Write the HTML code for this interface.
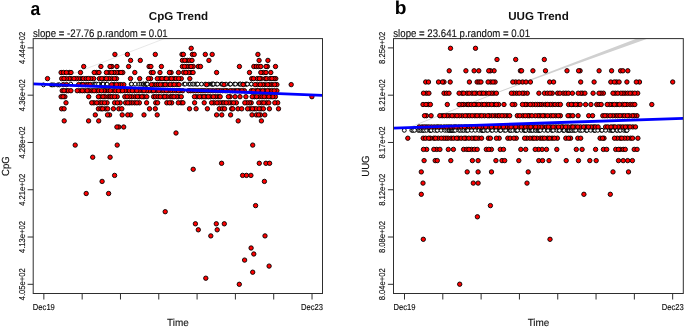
<!DOCTYPE html>
<html><head><meta charset="utf-8"><title>Trend plots</title>
<style>
html,body{margin:0;padding:0;background:#fff;}
body{width:685px;height:327px;overflow:hidden;font-family:"Liberation Sans",sans-serif;}
svg{display:block;will-change:transform;}
text{font-family:"Liberation Sans",sans-serif;fill:#111;text-rendering:geometricPrecision;}
.tk{font-size:8.6px;stroke:#111;stroke-width:0.15px;}
.lab{font-size:10.3px;stroke:#111;stroke-width:0.12px;}
.ttl{font-size:11.6px;font-weight:bold;}
.sub{font-size:11px;stroke:#111;stroke-width:0.12px;}
.let{font-size:18.8px;font-weight:bold;fill:#000;}
</style></head><body>
<svg width="685" height="327" viewBox="0 0 685 327">
<rect width="685" height="327" fill="#fff"/>
<defs><clipPath id="cl"><rect x="33.2" y="38.6" width="289.3" height="254.9"/></clipPath><clipPath id="cr"><rect x="393.5" y="38.6" width="289.79999999999995" height="254.9"/></clipPath></defs>
<g clip-path="url(#cl)">
<line x1="70" y1="74.9" x2="165" y2="38.4" stroke="#d9d9d9" stroke-width="0.6"/>
<g fill="#fff" stroke="#000" stroke-width="1.0"><circle cx="43.5" cy="84.9" r="1.9"/><circle cx="51.2" cy="84.9" r="1.9"/><circle cx="52.4" cy="84.9" r="1.9"/><circle cx="54.0" cy="84.9" r="1.9"/><circle cx="57.7" cy="84.9" r="1.9"/><circle cx="59.0" cy="84.9" r="1.9"/><circle cx="59.4" cy="84.9" r="1.9"/><circle cx="70.8" cy="84.1" r="1.9"/><circle cx="92.9" cy="84.1" r="1.9"/><circle cx="94.7" cy="84.1" r="1.9"/><circle cx="95.1" cy="84.1" r="1.9"/><circle cx="96.5" cy="84.1" r="1.9"/><circle cx="98.5" cy="84.1" r="1.9"/><circle cx="101.7" cy="84.1" r="1.9"/><circle cx="102.1" cy="84.1" r="1.9"/><circle cx="102.8" cy="84.1" r="1.9"/><circle cx="103.2" cy="84.1" r="1.9"/><circle cx="106.5" cy="84.1" r="1.9"/><circle cx="107.2" cy="84.1" r="1.9"/><circle cx="131.1" cy="84.1" r="1.9"/><circle cx="131.5" cy="84.1" r="1.9"/><circle cx="135.2" cy="84.1" r="1.9"/><circle cx="138.9" cy="84.1" r="1.9"/><circle cx="141.0" cy="84.1" r="1.9"/><circle cx="142.9" cy="84.1" r="1.9"/><circle cx="143.3" cy="84.1" r="1.9"/><circle cx="143.7" cy="84.1" r="1.9"/><circle cx="145.2" cy="84.1" r="1.9"/><circle cx="145.6" cy="84.1" r="1.9"/><circle cx="146.1" cy="84.1" r="1.9"/><circle cx="146.6" cy="84.1" r="1.9"/><circle cx="147.0" cy="84.1" r="1.9"/><circle cx="147.4" cy="84.1" r="1.9"/><circle cx="184.0" cy="84.1" r="1.9"/><circle cx="185.2" cy="84.1" r="1.9"/><circle cx="188.9" cy="84.1" r="1.9"/><circle cx="190.3" cy="84.1" r="1.9"/><circle cx="192.4" cy="84.1" r="1.9"/><circle cx="193.8" cy="84.1" r="1.9"/><circle cx="195.9" cy="84.1" r="1.9"/><circle cx="197.1" cy="84.1" r="1.9"/><circle cx="197.8" cy="84.1" r="1.9"/><circle cx="201.5" cy="84.1" r="1.9"/><circle cx="205.2" cy="84.1" r="1.9"/><circle cx="208.9" cy="84.1" r="1.9"/><circle cx="211.3" cy="84.1" r="1.9"/><circle cx="212.1" cy="84.1" r="1.9"/><circle cx="212.6" cy="84.1" r="1.9"/><circle cx="213.3" cy="84.1" r="1.9"/><circle cx="213.7" cy="84.1" r="1.9"/><circle cx="216.6" cy="84.1" r="1.9"/><circle cx="217.6" cy="84.1" r="1.9"/><circle cx="221.3" cy="84.1" r="1.9"/><circle cx="222.3" cy="84.1" r="1.9"/><circle cx="226.0" cy="84.1" r="1.9"/><circle cx="229.7" cy="84.1" r="1.9"/><circle cx="230.1" cy="84.1" r="1.9"/><circle cx="230.6" cy="84.1" r="1.9"/><circle cx="234.3" cy="84.1" r="1.9"/><circle cx="235.5" cy="84.1" r="1.9"/><circle cx="239.2" cy="84.1" r="1.9"/><circle cx="240.2" cy="84.1" r="1.9"/><circle cx="240.6" cy="84.1" r="1.9"/><circle cx="242.6" cy="84.1" r="1.9"/><circle cx="245.6" cy="84.1" r="1.9"/><circle cx="246.3" cy="84.1" r="1.9"/><circle cx="246.7" cy="84.1" r="1.9"/><circle cx="247.5" cy="84.1" r="1.9"/><circle cx="251.2" cy="84.1" r="1.9"/><circle cx="251.4" cy="84.1" r="1.9"/></g>
<g fill="#f00" stroke="#000" stroke-width="0.9"><circle cx="93.7" cy="78.6" r="2.2"/><circle cx="159.8" cy="78.6" r="2.2"/><circle cx="181.3" cy="78.6" r="2.2"/><circle cx="93.9" cy="102.8" r="2.2"/><circle cx="257.2" cy="78.6" r="2.2"/><circle cx="117.2" cy="145.1" r="2.2"/><circle cx="81.4" cy="78.6" r="2.2"/><circle cx="139.4" cy="102.8" r="2.2"/><circle cx="153.4" cy="84.6" r="2.2"/><circle cx="251.2" cy="102.8" r="2.2"/><circle cx="105.9" cy="90.7" r="2.2"/><circle cx="110.1" cy="157.2" r="2.2"/><circle cx="269.1" cy="266.1" r="2.2"/><circle cx="142.2" cy="90.7" r="2.2"/><circle cx="156.2" cy="84.6" r="2.2"/><circle cx="116.9" cy="66.5" r="2.2"/><circle cx="170.2" cy="96.7" r="2.2"/><circle cx="108.2" cy="96.7" r="2.2"/><circle cx="187.2" cy="60.4" r="2.2"/><circle cx="189.8" cy="78.6" r="2.2"/><circle cx="260.2" cy="90.7" r="2.2"/><circle cx="278.5" cy="108.8" r="2.2"/><circle cx="230.6" cy="114.9" r="2.2"/><circle cx="201.8" cy="96.7" r="2.2"/><circle cx="265.0" cy="90.7" r="2.2"/><circle cx="261.0" cy="108.8" r="2.2"/><circle cx="254.3" cy="96.7" r="2.2"/><circle cx="96.5" cy="90.7" r="2.2"/><circle cx="194.6" cy="102.8" r="2.2"/><circle cx="250.1" cy="108.8" r="2.2"/><circle cx="123.8" cy="84.6" r="2.2"/><circle cx="109.3" cy="72.5" r="2.2"/><circle cx="267.4" cy="66.5" r="2.2"/><circle cx="66.5" cy="90.7" r="2.2"/><circle cx="111.7" cy="78.6" r="2.2"/><circle cx="90.8" cy="78.6" r="2.2"/><circle cx="181.1" cy="102.8" r="2.2"/><circle cx="253.8" cy="254.0" r="2.2"/><circle cx="85.6" cy="84.6" r="2.2"/><circle cx="134.6" cy="102.8" r="2.2"/><circle cx="165.0" cy="78.6" r="2.2"/><circle cx="120.9" cy="84.6" r="2.2"/><circle cx="178.5" cy="96.7" r="2.2"/><circle cx="259.1" cy="60.4" r="2.2"/><circle cx="163.0" cy="84.6" r="2.2"/><circle cx="189.6" cy="60.4" r="2.2"/><circle cx="91.7" cy="102.8" r="2.2"/><circle cx="222.0" cy="102.8" r="2.2"/><circle cx="275.8" cy="78.6" r="2.2"/><circle cx="264.6" cy="84.6" r="2.2"/><circle cx="251.4" cy="90.7" r="2.2"/><circle cx="127.7" cy="90.7" r="2.2"/><circle cx="215.7" cy="90.7" r="2.2"/><circle cx="269.5" cy="90.7" r="2.2"/><circle cx="176.9" cy="84.6" r="2.2"/><circle cx="69.6" cy="72.5" r="2.2"/><circle cx="108.5" cy="90.7" r="2.2"/><circle cx="176.7" cy="96.7" r="2.2"/><circle cx="171.7" cy="102.8" r="2.2"/><circle cx="99.8" cy="102.8" r="2.2"/><circle cx="193.2" cy="90.7" r="2.2"/><circle cx="111.9" cy="66.5" r="2.2"/><circle cx="251.7" cy="78.6" r="2.2"/><circle cx="260.4" cy="114.9" r="2.2"/><circle cx="166.8" cy="102.8" r="2.2"/><circle cx="104.6" cy="78.6" r="2.2"/><circle cx="128.6" cy="66.5" r="2.2"/><circle cx="182.4" cy="66.5" r="2.2"/><circle cx="161.5" cy="90.7" r="2.2"/><circle cx="95.3" cy="114.9" r="2.2"/><circle cx="196.8" cy="96.7" r="2.2"/><circle cx="119" cy="72.5" r="2.2"/><circle cx="276.9" cy="90.7" r="2.2"/><circle cx="242.6" cy="175.4" r="2.2"/><circle cx="277.7" cy="102.8" r="2.2"/><circle cx="218.1" cy="96.7" r="2.2"/><circle cx="66" cy="102.8" r="2.2"/><circle cx="125.0" cy="90.7" r="2.2"/><circle cx="252.7" cy="272.2" r="2.2"/><circle cx="179.1" cy="84.6" r="2.2"/><circle cx="113.4" cy="90.7" r="2.2"/><circle cx="240" cy="96.7" r="2.2"/><circle cx="123.7" cy="127.0" r="2.2"/><circle cx="129.5" cy="90.7" r="2.2"/><circle cx="71.1" cy="78.6" r="2.2"/><circle cx="150.6" cy="78.6" r="2.2"/><circle cx="79.8" cy="90.7" r="2.2"/><circle cx="192.4" cy="54.4" r="2.2"/><circle cx="167.4" cy="84.6" r="2.2"/><circle cx="194.4" cy="96.7" r="2.2"/><circle cx="196.1" cy="108.8" r="2.2"/><circle cx="115.7" cy="90.7" r="2.2"/><circle cx="206.7" cy="84.6" r="2.2"/><circle cx="210.8" cy="235.9" r="2.2"/><circle cx="173.7" cy="78.6" r="2.2"/><circle cx="151.9" cy="90.7" r="2.2"/><circle cx="110.3" cy="90.7" r="2.2"/><circle cx="182.7" cy="90.7" r="2.2"/><circle cx="265.9" cy="163.3" r="2.2"/><circle cx="262.6" cy="84.6" r="2.2"/><circle cx="239.4" cy="90.7" r="2.2"/><circle cx="190.7" cy="90.7" r="2.2"/><circle cx="261.1" cy="78.6" r="2.2"/><circle cx="120.2" cy="102.8" r="2.2"/><circle cx="222.7" cy="90.7" r="2.2"/><circle cx="134.4" cy="90.7" r="2.2"/><circle cx="108.6" cy="193.5" r="2.2"/><circle cx="231.6" cy="108.8" r="2.2"/><circle cx="134.9" cy="96.7" r="2.2"/><circle cx="130.5" cy="78.6" r="2.2"/><circle cx="265.2" cy="78.6" r="2.2"/><circle cx="158.3" cy="84.6" r="2.2"/><circle cx="176.1" cy="78.6" r="2.2"/><circle cx="99.4" cy="78.6" r="2.2"/><circle cx="151.4" cy="84.6" r="2.2"/><circle cx="192" cy="60.4" r="2.2"/><circle cx="200.8" cy="90.7" r="2.2"/><circle cx="120.7" cy="90.7" r="2.2"/><circle cx="78.5" cy="78.6" r="2.2"/><circle cx="139.4" cy="96.7" r="2.2"/><circle cx="98.4" cy="108.8" r="2.2"/><circle cx="270.8" cy="72.5" r="2.2"/><circle cx="104.0" cy="90.7" r="2.2"/><circle cx="91.8" cy="90.7" r="2.2"/><circle cx="224" cy="84.6" r="2.2"/><circle cx="148.4" cy="78.6" r="2.2"/><circle cx="139.7" cy="78.6" r="2.2"/><circle cx="68.3" cy="90.7" r="2.2"/><circle cx="105.5" cy="108.8" r="2.2"/><circle cx="114.6" cy="175.4" r="2.2"/><circle cx="239.4" cy="66.5" r="2.2"/><circle cx="231.1" cy="102.8" r="2.2"/><circle cx="271.0" cy="96.7" r="2.2"/><circle cx="261.4" cy="120.9" r="2.2"/><circle cx="253.8" cy="66.5" r="2.2"/><circle cx="172.4" cy="84.6" r="2.2"/><circle cx="116.6" cy="72.5" r="2.2"/><circle cx="254.3" cy="108.8" r="2.2"/><circle cx="153.6" cy="96.7" r="2.2"/><circle cx="214.0" cy="102.8" r="2.2"/><circle cx="155.5" cy="96.7" r="2.2"/><circle cx="221.6" cy="163.3" r="2.2"/><circle cx="223.9" cy="102.8" r="2.2"/><circle cx="198.3" cy="66.5" r="2.2"/><circle cx="271.8" cy="90.7" r="2.2"/><circle cx="156.3" cy="90.7" r="2.2"/><circle cx="110" cy="66.5" r="2.2"/><circle cx="114.9" cy="54.4" r="2.2"/><circle cx="157.2" cy="114.9" r="2.2"/><circle cx="134.8" cy="72.5" r="2.2"/><circle cx="204.2" cy="102.8" r="2.2"/><circle cx="215.5" cy="96.7" r="2.2"/><circle cx="118.8" cy="127.0" r="2.2"/><circle cx="175.9" cy="90.7" r="2.2"/><circle cx="94.1" cy="90.7" r="2.2"/><circle cx="228.7" cy="102.8" r="2.2"/><circle cx="69.2" cy="78.6" r="2.2"/><circle cx="205.9" cy="96.7" r="2.2"/><circle cx="244.4" cy="90.7" r="2.2"/><circle cx="83.4" cy="78.6" r="2.2"/><circle cx="275.4" cy="96.7" r="2.2"/><circle cx="207.4" cy="108.8" r="2.2"/><circle cx="176" cy="133.0" r="2.2"/><circle cx="77.2" cy="90.7" r="2.2"/><circle cx="266.4" cy="96.7" r="2.2"/><circle cx="113.9" cy="84.6" r="2.2"/><circle cx="66.3" cy="78.6" r="2.2"/><circle cx="211.6" cy="102.8" r="2.2"/><circle cx="101.0" cy="108.8" r="2.2"/><circle cx="191.2" cy="48.3" r="2.2"/><circle cx="92.7" cy="157.2" r="2.2"/><circle cx="171.1" cy="72.5" r="2.2"/><circle cx="256.4" cy="66.5" r="2.2"/><circle cx="235.1" cy="96.7" r="2.2"/><circle cx="181.3" cy="96.7" r="2.2"/><circle cx="130.6" cy="60.4" r="2.2"/><circle cx="216.6" cy="72.5" r="2.2"/><circle cx="256.3" cy="108.8" r="2.2"/><circle cx="170.2" cy="84.6" r="2.2"/><circle cx="219.3" cy="108.8" r="2.2"/><circle cx="291.2" cy="84.6" r="2.2"/><circle cx="259.5" cy="96.7" r="2.2"/><circle cx="274.8" cy="102.8" r="2.2"/><circle cx="276.9" cy="84.6" r="2.2"/><circle cx="266.5" cy="102.8" r="2.2"/><circle cx="249.5" cy="102.8" r="2.2"/><circle cx="272.8" cy="96.7" r="2.2"/><circle cx="158.8" cy="90.7" r="2.2"/><circle cx="198.3" cy="229.8" r="2.2"/><circle cx="235.1" cy="90.7" r="2.2"/><circle cx="208.9" cy="60.4" r="2.2"/><circle cx="195.4" cy="223.8" r="2.2"/><circle cx="188.7" cy="66.5" r="2.2"/><circle cx="182.4" cy="60.4" r="2.2"/><circle cx="207.9" cy="90.7" r="2.2"/><circle cx="169.4" cy="102.8" r="2.2"/><circle cx="193.2" cy="66.5" r="2.2"/><circle cx="257.5" cy="84.6" r="2.2"/><circle cx="98.7" cy="90.7" r="2.2"/><circle cx="84.5" cy="90.7" r="2.2"/><circle cx="205.8" cy="278.2" r="2.2"/><circle cx="217.2" cy="229.8" r="2.2"/><circle cx="114" cy="72.5" r="2.2"/><circle cx="106.4" cy="72.5" r="2.2"/><circle cx="70.9" cy="90.7" r="2.2"/><circle cx="262.7" cy="90.7" r="2.2"/><circle cx="116.9" cy="127.0" r="2.2"/><circle cx="232.8" cy="108.8" r="2.2"/><circle cx="172.1" cy="96.7" r="2.2"/><circle cx="113.4" cy="108.8" r="2.2"/><circle cx="255.6" cy="205.6" r="2.2"/><circle cx="162.0" cy="78.6" r="2.2"/><circle cx="236.4" cy="102.8" r="2.2"/><circle cx="153.5" cy="90.7" r="2.2"/><circle cx="272.0" cy="84.6" r="2.2"/><circle cx="149.1" cy="66.5" r="2.2"/><circle cx="220.2" cy="90.7" r="2.2"/><circle cx="199.6" cy="96.7" r="2.2"/><circle cx="253.5" cy="78.6" r="2.2"/><circle cx="63.2" cy="84.6" r="2.2"/><circle cx="311.9" cy="96.7" r="2.2"/><circle cx="219.5" cy="102.8" r="2.2"/><circle cx="96.8" cy="102.8" r="2.2"/><circle cx="230.2" cy="96.7" r="2.2"/><circle cx="202.9" cy="90.7" r="2.2"/><circle cx="155.3" cy="54.4" r="2.2"/><circle cx="210.5" cy="96.7" r="2.2"/><circle cx="151.3" cy="72.5" r="2.2"/><circle cx="182.0" cy="54.4" r="2.2"/><circle cx="244.6" cy="260.1" r="2.2"/><circle cx="222.4" cy="108.8" r="2.2"/><circle cx="178.5" cy="72.5" r="2.2"/><circle cx="252.4" cy="108.8" r="2.2"/><circle cx="62.2" cy="90.7" r="2.2"/><circle cx="238.2" cy="120.9" r="2.2"/><circle cx="268.8" cy="96.7" r="2.2"/><circle cx="86.2" cy="193.5" r="2.2"/><circle cx="75.2" cy="145.1" r="2.2"/><circle cx="118.5" cy="90.7" r="2.2"/><circle cx="143.9" cy="96.7" r="2.2"/><circle cx="263.3" cy="72.5" r="2.2"/><circle cx="243.2" cy="84.6" r="2.2"/><circle cx="107.1" cy="102.8" r="2.2"/><circle cx="165.2" cy="211.7" r="2.2"/><circle cx="80.5" cy="72.5" r="2.2"/><circle cx="61.1" cy="72.5" r="2.2"/><circle cx="140.3" cy="60.4" r="2.2"/><circle cx="130.7" cy="114.9" r="2.2"/><circle cx="258.6" cy="66.5" r="2.2"/><circle cx="256.2" cy="90.7" r="2.2"/><circle cx="150.9" cy="66.5" r="2.2"/><circle cx="232.5" cy="90.7" r="2.2"/><circle cx="155.3" cy="108.8" r="2.2"/><circle cx="109.6" cy="114.9" r="2.2"/><circle cx="81.2" cy="84.6" r="2.2"/><circle cx="100.9" cy="66.5" r="2.2"/><circle cx="163.2" cy="96.7" r="2.2"/><circle cx="117.2" cy="96.7" r="2.2"/><circle cx="155.7" cy="102.8" r="2.2"/><circle cx="250.9" cy="175.4" r="2.2"/><circle cx="183.4" cy="54.4" r="2.2"/><circle cx="212.9" cy="90.7" r="2.2"/><circle cx="114.6" cy="102.8" r="2.2"/><circle cx="174.0" cy="96.7" r="2.2"/><circle cx="191" cy="66.5" r="2.2"/><circle cx="169.7" cy="78.6" r="2.2"/><circle cx="260.8" cy="66.5" r="2.2"/><circle cx="78.6" cy="84.6" r="2.2"/><circle cx="137.5" cy="96.7" r="2.2"/><circle cx="205.3" cy="54.4" r="2.2"/><circle cx="87.9" cy="84.6" r="2.2"/><circle cx="125.6" cy="102.8" r="2.2"/><circle cx="173.0" cy="90.7" r="2.2"/><circle cx="238" cy="108.8" r="2.2"/><circle cx="61.6" cy="108.8" r="2.2"/><circle cx="118.5" cy="84.6" r="2.2"/><circle cx="275.5" cy="66.5" r="2.2"/><circle cx="269.3" cy="84.6" r="2.2"/><circle cx="267.5" cy="90.7" r="2.2"/><circle cx="262.0" cy="96.7" r="2.2"/><circle cx="131.8" cy="96.7" r="2.2"/><circle cx="252" cy="114.9" r="2.2"/><circle cx="149.0" cy="90.7" r="2.2"/><circle cx="178.3" cy="102.8" r="2.2"/><circle cx="170.6" cy="90.7" r="2.2"/><circle cx="259.2" cy="108.8" r="2.2"/><circle cx="90.1" cy="84.6" r="2.2"/><circle cx="86.2" cy="78.6" r="2.2"/><circle cx="267.9" cy="60.4" r="2.2"/><circle cx="111.6" cy="84.6" r="2.2"/><circle cx="82.9" cy="84.6" r="2.2"/><circle cx="251.1" cy="248.0" r="2.2"/><circle cx="96.5" cy="72.5" r="2.2"/><circle cx="178.7" cy="78.6" r="2.2"/><circle cx="111.6" cy="72.5" r="2.2"/><circle cx="247.1" cy="102.8" r="2.2"/><circle cx="226.2" cy="102.8" r="2.2"/><circle cx="165.2" cy="84.6" r="2.2"/><circle cx="269.4" cy="108.8" r="2.2"/><circle cx="274.7" cy="84.6" r="2.2"/><circle cx="122.5" cy="90.7" r="2.2"/><circle cx="228.4" cy="96.7" r="2.2"/><circle cx="241.7" cy="108.8" r="2.2"/><circle cx="107.5" cy="114.9" r="2.2"/><circle cx="158.1" cy="96.7" r="2.2"/><circle cx="233.6" cy="102.8" r="2.2"/><circle cx="247.6" cy="108.8" r="2.2"/><circle cx="102" cy="102.8" r="2.2"/><circle cx="63.5" cy="72.5" r="2.2"/><circle cx="260.3" cy="84.6" r="2.2"/><circle cx="89.0" cy="90.7" r="2.2"/><circle cx="108.9" cy="78.6" r="2.2"/><circle cx="263.4" cy="108.8" r="2.2"/><circle cx="64.0" cy="90.7" r="2.2"/><circle cx="146.5" cy="90.7" r="2.2"/><circle cx="100.4" cy="96.7" r="2.2"/><circle cx="180.0" cy="90.7" r="2.2"/><circle cx="61.7" cy="78.6" r="2.2"/><circle cx="171.5" cy="78.6" r="2.2"/><circle cx="64.0" cy="78.6" r="2.2"/><circle cx="257.9" cy="90.7" r="2.2"/><circle cx="139.1" cy="90.7" r="2.2"/><circle cx="66.4" cy="72.5" r="2.2"/><circle cx="166.4" cy="78.6" r="2.2"/><circle cx="230.2" cy="90.7" r="2.2"/><circle cx="157.6" cy="102.8" r="2.2"/><circle cx="274" cy="78.6" r="2.2"/><circle cx="191" cy="72.5" r="2.2"/><circle cx="101.5" cy="90.7" r="2.2"/><circle cx="104.5" cy="102.8" r="2.2"/><circle cx="193.2" cy="169.3" r="2.2"/><circle cx="146.6" cy="102.8" r="2.2"/><circle cx="174.2" cy="84.6" r="2.2"/><circle cx="264.8" cy="114.9" r="2.2"/><circle cx="132.0" cy="102.8" r="2.2"/><circle cx="178.4" cy="90.7" r="2.2"/><circle cx="256.4" cy="114.9" r="2.2"/><circle cx="200.5" cy="66.5" r="2.2"/><circle cx="255.1" cy="84.6" r="2.2"/><circle cx="244.8" cy="102.8" r="2.2"/><circle cx="132.3" cy="90.7" r="2.2"/><circle cx="122.8" cy="72.5" r="2.2"/><circle cx="163.8" cy="90.7" r="2.2"/><circle cx="183.6" cy="72.5" r="2.2"/><circle cx="205.1" cy="90.7" r="2.2"/><circle cx="116.5" cy="78.6" r="2.2"/><circle cx="64.1" cy="108.8" r="2.2"/><circle cx="216.6" cy="114.9" r="2.2"/><circle cx="110.3" cy="96.7" r="2.2"/><circle cx="266.7" cy="78.6" r="2.2"/><circle cx="261.6" cy="102.8" r="2.2"/><circle cx="241.9" cy="90.7" r="2.2"/><circle cx="129.6" cy="96.7" r="2.2"/><circle cx="64.9" cy="96.7" r="2.2"/><circle cx="258.8" cy="102.8" r="2.2"/><circle cx="189.5" cy="108.8" r="2.2"/><circle cx="217.0" cy="102.8" r="2.2"/><circle cx="114.5" cy="78.6" r="2.2"/><circle cx="98.4" cy="96.7" r="2.2"/><circle cx="245.9" cy="96.7" r="2.2"/><circle cx="61.1" cy="96.7" r="2.2"/><circle cx="264.4" cy="181.4" r="2.2"/><circle cx="118.8" cy="108.8" r="2.2"/><circle cx="198.3" cy="90.7" r="2.2"/><circle cx="186.5" cy="66.5" r="2.2"/><circle cx="102.1" cy="181.4" r="2.2"/><circle cx="167.0" cy="96.7" r="2.2"/><circle cx="210.3" cy="90.7" r="2.2"/><circle cx="63" cy="96.7" r="2.2"/><circle cx="71.0" cy="72.5" r="2.2"/><circle cx="83.7" cy="66.5" r="2.2"/><circle cx="116.5" cy="84.6" r="2.2"/><circle cx="101.8" cy="78.6" r="2.2"/><circle cx="270" cy="78.6" r="2.2"/><circle cx="161.4" cy="66.5" r="2.2"/><circle cx="164.8" cy="96.7" r="2.2"/><circle cx="99" cy="72.5" r="2.2"/><circle cx="253.3" cy="90.7" r="2.2"/><circle cx="149.5" cy="108.8" r="2.2"/><circle cx="124.8" cy="96.7" r="2.2"/><circle cx="105.0" cy="96.7" r="2.2"/><circle cx="183.0" cy="102.8" r="2.2"/><circle cx="221.8" cy="114.9" r="2.2"/><circle cx="239.3" cy="284.3" r="2.2"/><circle cx="160.3" cy="96.7" r="2.2"/><circle cx="121" cy="72.5" r="2.2"/><circle cx="252.7" cy="145.1" r="2.2"/><circle cx="264.2" cy="96.7" r="2.2"/><circle cx="246.5" cy="175.4" r="2.2"/><circle cx="188.7" cy="72.5" r="2.2"/><circle cx="76.3" cy="78.6" r="2.2"/><circle cx="249.5" cy="72.5" r="2.2"/><circle cx="127.4" cy="54.4" r="2.2"/><circle cx="252.2" cy="96.7" r="2.2"/><circle cx="88.3" cy="78.6" r="2.2"/><circle cx="195.6" cy="90.7" r="2.2"/><circle cx="212.2" cy="54.4" r="2.2"/><circle cx="88.7" cy="96.7" r="2.2"/><circle cx="112.1" cy="96.7" r="2.2"/><circle cx="216.3" cy="223.8" r="2.2"/><circle cx="127.1" cy="96.7" r="2.2"/><circle cx="160" cy="72.5" r="2.2"/><circle cx="258.6" cy="114.9" r="2.2"/><circle cx="168.1" cy="90.7" r="2.2"/><circle cx="103.0" cy="96.7" r="2.2"/><circle cx="204.0" cy="96.7" r="2.2"/><circle cx="136.9" cy="102.8" r="2.2"/><circle cx="217.9" cy="90.7" r="2.2"/><circle cx="87.2" cy="90.7" r="2.2"/><circle cx="102.6" cy="108.8" r="2.2"/><circle cx="184.5" cy="66.5" r="2.2"/><circle cx="259.3" cy="163.3" r="2.2"/><circle cx="166.3" cy="90.7" r="2.2"/><circle cx="141.9" cy="96.7" r="2.2"/><circle cx="66.6" cy="84.6" r="2.2"/><circle cx="267.7" cy="84.6" r="2.2"/><circle cx="208.3" cy="96.7" r="2.2"/><circle cx="224.6" cy="108.8" r="2.2"/><circle cx="259.4" cy="78.6" r="2.2"/><circle cx="274.2" cy="90.7" r="2.2"/><circle cx="160.4" cy="84.6" r="2.2"/><circle cx="98.7" cy="120.9" r="2.2"/><circle cx="271.9" cy="78.6" r="2.2"/><circle cx="224.3" cy="223.8" r="2.2"/><circle cx="157.3" cy="78.6" r="2.2"/><circle cx="64.2" cy="120.9" r="2.2"/><circle cx="106.4" cy="78.6" r="2.2"/><circle cx="188.6" cy="90.7" r="2.2"/><circle cx="185.8" cy="72.5" r="2.2"/><circle cx="121.8" cy="108.8" r="2.2"/><circle cx="114.6" cy="96.7" r="2.2"/><circle cx="94.2" cy="72.5" r="2.2"/><circle cx="117.4" cy="102.8" r="2.2"/><circle cx="265" cy="235.9" r="2.2"/><circle cx="122.2" cy="114.9" r="2.2"/><circle cx="194.2" cy="54.4" r="2.2"/><circle cx="257.9" cy="54.4" r="2.2"/><circle cx="169.4" cy="72.5" r="2.2"/><circle cx="269.6" cy="163.3" r="2.2"/><circle cx="146.8" cy="96.7" r="2.2"/><circle cx="266" cy="72.5" r="2.2"/><circle cx="82.3" cy="90.7" r="2.2"/><circle cx="129.7" cy="102.8" r="2.2"/><circle cx="237.4" cy="90.7" r="2.2"/><circle cx="220.2" cy="96.7" r="2.2"/><circle cx="88.6" cy="120.9" r="2.2"/><circle cx="256.6" cy="96.7" r="2.2"/><circle cx="193.1" cy="72.5" r="2.2"/><circle cx="127.8" cy="102.8" r="2.2"/><circle cx="144" cy="114.9" r="2.2"/><circle cx="227.0" cy="90.7" r="2.2"/><circle cx="213.4" cy="96.7" r="2.2"/><circle cx="260.8" cy="72.5" r="2.2"/><circle cx="184.8" cy="60.4" r="2.2"/><circle cx="153.2" cy="72.5" r="2.2"/><circle cx="74.0" cy="78.6" r="2.2"/><circle cx="47.5" cy="78.6" r="2.2"/><circle cx="268.8" cy="102.8" r="2.2"/><circle cx="266.0" cy="66.5" r="2.2"/><circle cx="107.7" cy="108.8" r="2.2"/><circle cx="144.0" cy="90.7" r="2.2"/><circle cx="225.2" cy="90.7" r="2.2"/><circle cx="136.8" cy="90.7" r="2.2"/><circle cx="263.8" cy="102.8" r="2.2"/><circle cx="127.7" cy="114.9" r="2.2"/></g>
<line x1="33" y1="83.8" x2="322.6" y2="95.4" stroke="#0000ff" stroke-width="2.8"/>
</g>
<g clip-path="url(#cr)">
<polygon points="410,126.8 500,91.1 561,67.6 637,38.6 648,38.6 561,69.6 500,91.9 410,127.5" fill="#d0d0d0"/>
<g fill="#fff" stroke="#000" stroke-width="1.0"><circle cx="404.3" cy="130.3" r="1.95"/><circle cx="411.8" cy="130.3" r="1.95"/><circle cx="413.0" cy="130.3" r="1.95"/><circle cx="414.6" cy="130.3" r="1.95"/><circle cx="418.3" cy="130.3" r="1.95"/><circle cx="419.6" cy="130.3" r="1.95"/><circle cx="421.0" cy="130.3" r="1.95"/><circle cx="422.8" cy="130.3" r="1.95"/><circle cx="423.2" cy="130.3" r="1.95"/><circle cx="424.6" cy="130.3" r="1.95"/><circle cx="426.6" cy="130.3" r="1.95"/><circle cx="429.8" cy="130.3" r="1.95"/><circle cx="430.2" cy="130.3" r="1.95"/><circle cx="430.9" cy="130.3" r="1.95"/><circle cx="431.3" cy="130.3" r="1.95"/><circle cx="434.6" cy="130.3" r="1.95"/><circle cx="437.0" cy="130.3" r="1.95"/><circle cx="437.4" cy="130.3" r="1.95"/><circle cx="441.1" cy="130.3" r="1.95"/><circle cx="444.8" cy="130.3" r="1.95"/><circle cx="446.9" cy="130.3" r="1.95"/><circle cx="448.8" cy="130.3" r="1.95"/><circle cx="449.2" cy="130.3" r="1.95"/><circle cx="449.6" cy="130.3" r="1.95"/><circle cx="451.1" cy="130.3" r="1.95"/><circle cx="451.5" cy="130.3" r="1.95"/><circle cx="451.9" cy="130.3" r="1.95"/><circle cx="452.5" cy="130.3" r="1.95"/><circle cx="452.9" cy="130.3" r="1.95"/><circle cx="454.1" cy="130.3" r="1.95"/><circle cx="455.3" cy="130.3" r="1.95"/><circle cx="459.0" cy="130.3" r="1.95"/><circle cx="460.5" cy="130.3" r="1.95"/><circle cx="462.5" cy="130.3" r="1.95"/><circle cx="463.9" cy="130.3" r="1.95"/><circle cx="466.1" cy="130.3" r="1.95"/><circle cx="467.3" cy="130.3" r="1.95"/><circle cx="467.9" cy="130.3" r="1.95"/><circle cx="471.6" cy="130.3" r="1.95"/><circle cx="475.3" cy="130.3" r="1.95"/><circle cx="479.0" cy="130.3" r="1.95"/><circle cx="481.5" cy="130.3" r="1.95"/><circle cx="482.2" cy="130.3" r="1.95"/><circle cx="482.7" cy="130.3" r="1.95"/><circle cx="483.4" cy="130.3" r="1.95"/><circle cx="483.8" cy="130.3" r="1.95"/><circle cx="486.7" cy="130.3" r="1.95"/><circle cx="487.8" cy="130.3" r="1.95"/><circle cx="491.5" cy="130.3" r="1.95"/><circle cx="492.4" cy="130.3" r="1.95"/><circle cx="496.1" cy="130.3" r="1.95"/><circle cx="499.8" cy="130.3" r="1.95"/><circle cx="500.2" cy="130.3" r="1.95"/><circle cx="500.7" cy="130.3" r="1.95"/><circle cx="504.4" cy="130.3" r="1.95"/><circle cx="505.7" cy="130.3" r="1.95"/><circle cx="509.4" cy="130.3" r="1.95"/><circle cx="510.4" cy="130.3" r="1.95"/><circle cx="510.8" cy="130.3" r="1.95"/><circle cx="512.8" cy="130.3" r="1.95"/><circle cx="515.8" cy="130.3" r="1.95"/><circle cx="516.4" cy="130.3" r="1.95"/><circle cx="516.8" cy="130.3" r="1.95"/><circle cx="517.6" cy="130.3" r="1.95"/><circle cx="521.3" cy="130.3" r="1.95"/><circle cx="524.2" cy="130.3" r="1.95"/><circle cx="524.6" cy="130.3" r="1.95"/><circle cx="525.1" cy="130.3" r="1.95"/><circle cx="525.5" cy="130.3" r="1.95"/><circle cx="525.9" cy="130.3" r="1.95"/><circle cx="529.1" cy="130.3" r="1.95"/><circle cx="529.5" cy="130.3" r="1.95"/><circle cx="531.2" cy="130.3" r="1.95"/><circle cx="532.3" cy="130.3" r="1.95"/><circle cx="532.8" cy="130.3" r="1.95"/><circle cx="535.4" cy="130.3" r="1.95"/><circle cx="535.8" cy="130.3" r="1.95"/><circle cx="537.9" cy="130.3" r="1.95"/><circle cx="538.3" cy="130.3" r="1.95"/><circle cx="539.4" cy="130.3" r="1.95"/><circle cx="539.8" cy="130.3" r="1.95"/><circle cx="540.5" cy="130.3" r="1.95"/><circle cx="544.2" cy="130.3" r="1.95"/><circle cx="547.4" cy="130.3" r="1.95"/><circle cx="548.1" cy="130.3" r="1.95"/><circle cx="551.8" cy="130.3" r="1.95"/><circle cx="552.3" cy="130.3" r="1.95"/><circle cx="553.3" cy="130.3" r="1.95"/><circle cx="557.0" cy="130.3" r="1.95"/><circle cx="559.1" cy="130.3" r="1.95"/><circle cx="559.5" cy="130.3" r="1.95"/><circle cx="563.2" cy="130.3" r="1.95"/><circle cx="563.6" cy="130.3" r="1.95"/><circle cx="564.2" cy="130.3" r="1.95"/><circle cx="567.2" cy="130.3" r="1.95"/><circle cx="568.0" cy="130.3" r="1.95"/><circle cx="568.7" cy="130.3" r="1.95"/><circle cx="569.1" cy="130.3" r="1.95"/><circle cx="569.5" cy="130.3" r="1.95"/><circle cx="571.3" cy="130.3" r="1.95"/><circle cx="571.8" cy="130.3" r="1.95"/><circle cx="573.7" cy="130.3" r="1.95"/><circle cx="574.6" cy="130.3" r="1.95"/><circle cx="575.8" cy="130.3" r="1.95"/><circle cx="579.5" cy="130.3" r="1.95"/><circle cx="580.8" cy="130.3" r="1.95"/><circle cx="582.5" cy="130.3" r="1.95"/><circle cx="586.2" cy="130.3" r="1.95"/><circle cx="586.6" cy="130.3" r="1.95"/><circle cx="587.0" cy="130.3" r="1.95"/><circle cx="590.7" cy="130.3" r="1.95"/><circle cx="594.1" cy="130.3" r="1.95"/><circle cx="594.7" cy="130.3" r="1.95"/><circle cx="595.1" cy="130.3" r="1.95"/><circle cx="597.8" cy="130.3" r="1.95"/><circle cx="601.5" cy="130.3" r="1.95"/><circle cx="602.0" cy="130.3" r="1.95"/><circle cx="605.7" cy="130.3" r="1.95"/><circle cx="609.4" cy="130.3" r="1.95"/><circle cx="611.2" cy="130.3" r="1.95"/><circle cx="612.3" cy="130.3" r="1.95"/><circle cx="612.7" cy="130.3" r="1.95"/><circle cx="613.1" cy="130.3" r="1.95"/><circle cx="616.8" cy="130.3" r="1.95"/><circle cx="617.3" cy="130.3" r="1.95"/><circle cx="619.8" cy="130.3" r="1.95"/><circle cx="620.4" cy="130.3" r="1.95"/><circle cx="623.8" cy="130.3" r="1.95"/><circle cx="625.7" cy="130.3" r="1.95"/><circle cx="626.4" cy="130.3" r="1.95"/><circle cx="626.8" cy="130.3" r="1.95"/><circle cx="627.0" cy="130.3" r="1.95"/></g>
<g fill="#f00" stroke="#000" stroke-width="0.9"><circle cx="620.2" cy="149.4" r="2.2"/><circle cx="494.2" cy="104.5" r="2.2"/><circle cx="532.9" cy="70.8" r="2.2"/><circle cx="488.8" cy="126.9" r="2.2"/><circle cx="494.1" cy="70.8" r="2.2"/><circle cx="426.4" cy="93.2" r="2.2"/><circle cx="486.3" cy="149.4" r="2.2"/><circle cx="476.2" cy="93.2" r="2.2"/><circle cx="473.3" cy="183.1" r="2.2"/><circle cx="434.2" cy="126.9" r="2.2"/><circle cx="615.5" cy="115.7" r="2.2"/><circle cx="478.8" cy="70.8" r="2.2"/><circle cx="630.2" cy="104.5" r="2.2"/><circle cx="557.4" cy="138.2" r="2.2"/><circle cx="488.4" cy="138.2" r="2.2"/><circle cx="467.0" cy="104.5" r="2.2"/><circle cx="527.0" cy="104.5" r="2.2"/><circle cx="493.7" cy="93.2" r="2.2"/><circle cx="610.3" cy="194.3" r="2.2"/><circle cx="543.2" cy="126.9" r="2.2"/><circle cx="444" cy="93.2" r="2.2"/><circle cx="442.2" cy="115.7" r="2.2"/><circle cx="476.1" cy="126.9" r="2.2"/><circle cx="582.5" cy="93.2" r="2.2"/><circle cx="435.2" cy="160.6" r="2.2"/><circle cx="540.1" cy="115.7" r="2.2"/><circle cx="425.7" cy="82.0" r="2.2"/><circle cx="625.2" cy="93.2" r="2.2"/><circle cx="613" cy="171.9" r="2.2"/><circle cx="523.6" cy="126.9" r="2.2"/><circle cx="615.3" cy="93.2" r="2.2"/><circle cx="620.4" cy="126.9" r="2.2"/><circle cx="575.3" cy="126.9" r="2.2"/><circle cx="453.4" cy="149.4" r="2.2"/><circle cx="538.9" cy="93.2" r="2.2"/><circle cx="616.9" cy="104.5" r="2.2"/><circle cx="593.6" cy="126.9" r="2.2"/><circle cx="545.5" cy="70.8" r="2.2"/><circle cx="550.6" cy="126.9" r="2.2"/><circle cx="607.3" cy="115.7" r="2.2"/><circle cx="600.1" cy="138.2" r="2.2"/><circle cx="476.1" cy="104.5" r="2.2"/><circle cx="436.7" cy="149.4" r="2.2"/><circle cx="612.1" cy="104.5" r="2.2"/><circle cx="570.1" cy="115.7" r="2.2"/><circle cx="580.6" cy="126.9" r="2.2"/><circle cx="490.7" cy="82.0" r="2.2"/><circle cx="525.2" cy="104.5" r="2.2"/><circle cx="478.6" cy="138.2" r="2.2"/><circle cx="550.7" cy="115.7" r="2.2"/><circle cx="596.7" cy="104.5" r="2.2"/><circle cx="540.2" cy="138.2" r="2.2"/><circle cx="499.2" cy="138.2" r="2.2"/><circle cx="426.7" cy="149.4" r="2.2"/><circle cx="484.5" cy="115.7" r="2.2"/><circle cx="502" cy="160.6" r="2.2"/><circle cx="471.5" cy="149.4" r="2.2"/><circle cx="620.1" cy="138.2" r="2.2"/><circle cx="544.7" cy="115.7" r="2.2"/><circle cx="466.6" cy="126.9" r="2.2"/><circle cx="468.7" cy="104.5" r="2.2"/><circle cx="518.9" cy="126.9" r="2.2"/><circle cx="491.4" cy="93.2" r="2.2"/><circle cx="632.8" cy="126.9" r="2.2"/><circle cx="475.5" cy="48.3" r="2.2"/><circle cx="494.9" cy="115.7" r="2.2"/><circle cx="426.4" cy="115.7" r="2.2"/><circle cx="542.2" cy="104.5" r="2.2"/><circle cx="634.2" cy="149.4" r="2.2"/><circle cx="486.6" cy="104.5" r="2.2"/><circle cx="458.8" cy="126.9" r="2.2"/><circle cx="544.5" cy="93.2" r="2.2"/><circle cx="570.6" cy="138.2" r="2.2"/><circle cx="538.0" cy="115.7" r="2.2"/><circle cx="615.7" cy="149.4" r="2.2"/><circle cx="613.3" cy="126.9" r="2.2"/><circle cx="497.6" cy="115.7" r="2.2"/><circle cx="424.5" cy="115.7" r="2.2"/><circle cx="422.1" cy="126.9" r="2.2"/><circle cx="618.2" cy="126.9" r="2.2"/><circle cx="577.8" cy="126.9" r="2.2"/><circle cx="507.8" cy="138.2" r="2.2"/><circle cx="557.6" cy="93.2" r="2.2"/><circle cx="627.7" cy="160.6" r="2.2"/><circle cx="571.2" cy="126.9" r="2.2"/><circle cx="514.8" cy="104.5" r="2.2"/><circle cx="595.4" cy="126.9" r="2.2"/><circle cx="513.8" cy="126.9" r="2.2"/><circle cx="525.7" cy="149.4" r="2.2"/><circle cx="599" cy="104.5" r="2.2"/><circle cx="462.3" cy="115.7" r="2.2"/><circle cx="578.1" cy="115.7" r="2.2"/><circle cx="550" cy="239.3" r="2.2"/><circle cx="552.6" cy="104.5" r="2.2"/><circle cx="483.6" cy="126.9" r="2.2"/><circle cx="439.8" cy="115.7" r="2.2"/><circle cx="488.9" cy="104.5" r="2.2"/><circle cx="444.1" cy="126.9" r="2.2"/><circle cx="451.1" cy="138.2" r="2.2"/><circle cx="612.8" cy="115.7" r="2.2"/><circle cx="544.3" cy="59.5" r="2.2"/><circle cx="448.9" cy="126.9" r="2.2"/><circle cx="572.9" cy="126.9" r="2.2"/><circle cx="467.5" cy="115.7" r="2.2"/><circle cx="617.2" cy="138.2" r="2.2"/><circle cx="527.3" cy="93.2" r="2.2"/><circle cx="501.6" cy="126.9" r="2.2"/><circle cx="539.9" cy="104.5" r="2.2"/><circle cx="423.2" cy="138.2" r="2.2"/><circle cx="474.8" cy="115.7" r="2.2"/><circle cx="525.7" cy="126.9" r="2.2"/><circle cx="448.1" cy="138.2" r="2.2"/><circle cx="495.1" cy="82.0" r="2.2"/><circle cx="627.0" cy="104.5" r="2.2"/><circle cx="481.6" cy="138.2" r="2.2"/><circle cx="463.6" cy="149.4" r="2.2"/><circle cx="469.3" cy="126.9" r="2.2"/><circle cx="472.4" cy="160.6" r="2.2"/><circle cx="622.6" cy="115.7" r="2.2"/><circle cx="449.4" cy="115.7" r="2.2"/><circle cx="537.0" cy="138.2" r="2.2"/><circle cx="632.8" cy="104.5" r="2.2"/><circle cx="565.8" cy="138.2" r="2.2"/><circle cx="577.8" cy="138.2" r="2.2"/><circle cx="508.5" cy="126.9" r="2.2"/><circle cx="594.1" cy="82.0" r="2.2"/><circle cx="610.8" cy="82.0" r="2.2"/><circle cx="498.7" cy="104.5" r="2.2"/><circle cx="537.7" cy="104.5" r="2.2"/><circle cx="516.3" cy="138.2" r="2.2"/><circle cx="533.8" cy="126.9" r="2.2"/><circle cx="521.3" cy="126.9" r="2.2"/><circle cx="423" cy="104.5" r="2.2"/><circle cx="563.4" cy="93.2" r="2.2"/><circle cx="520.4" cy="70.8" r="2.2"/><circle cx="450.2" cy="82.0" r="2.2"/><circle cx="547.5" cy="138.2" r="2.2"/><circle cx="478.1" cy="183.1" r="2.2"/><circle cx="498.9" cy="126.9" r="2.2"/><circle cx="532.6" cy="138.2" r="2.2"/><circle cx="481.5" cy="93.2" r="2.2"/><circle cx="522.6" cy="82.0" r="2.2"/><circle cx="603.4" cy="93.2" r="2.2"/><circle cx="541.2" cy="126.9" r="2.2"/><circle cx="616.5" cy="82.0" r="2.2"/><circle cx="610.2" cy="115.7" r="2.2"/><circle cx="448.3" cy="149.4" r="2.2"/><circle cx="623.2" cy="160.6" r="2.2"/><circle cx="637.0" cy="115.7" r="2.2"/><circle cx="474.2" cy="138.2" r="2.2"/><circle cx="471.9" cy="93.2" r="2.2"/><circle cx="550.2" cy="104.5" r="2.2"/><circle cx="495.9" cy="160.6" r="2.2"/><circle cx="463.8" cy="104.5" r="2.2"/><circle cx="546.4" cy="126.9" r="2.2"/><circle cx="466.9" cy="93.2" r="2.2"/><circle cx="478.1" cy="160.6" r="2.2"/><circle cx="572.8" cy="115.7" r="2.2"/><circle cx="479.4" cy="93.2" r="2.2"/><circle cx="622.7" cy="104.5" r="2.2"/><circle cx="602.8" cy="115.7" r="2.2"/><circle cx="478.1" cy="171.9" r="2.2"/><circle cx="471.4" cy="126.9" r="2.2"/><circle cx="568.6" cy="104.5" r="2.2"/><circle cx="552.3" cy="93.2" r="2.2"/><circle cx="477.4" cy="216.8" r="2.2"/><circle cx="423.5" cy="93.2" r="2.2"/><circle cx="526" cy="82.0" r="2.2"/><circle cx="486.0" cy="93.2" r="2.2"/><circle cx="507.1" cy="115.7" r="2.2"/><circle cx="634.3" cy="115.7" r="2.2"/><circle cx="549" cy="160.6" r="2.2"/><circle cx="444" cy="82.0" r="2.2"/><circle cx="450.8" cy="160.6" r="2.2"/><circle cx="635.5" cy="126.9" r="2.2"/><circle cx="465.9" cy="70.8" r="2.2"/><circle cx="538.8" cy="160.6" r="2.2"/><circle cx="438.3" cy="138.2" r="2.2"/><circle cx="528.2" cy="171.9" r="2.2"/><circle cx="552.1" cy="138.2" r="2.2"/><circle cx="521.6" cy="70.8" r="2.2"/><circle cx="549.6" cy="138.2" r="2.2"/><circle cx="433.8" cy="138.2" r="2.2"/><circle cx="431.4" cy="126.9" r="2.2"/><circle cx="505.7" cy="126.9" r="2.2"/><circle cx="630.5" cy="138.2" r="2.2"/><circle cx="585.6" cy="104.5" r="2.2"/><circle cx="465.9" cy="138.2" r="2.2"/><circle cx="624.7" cy="115.7" r="2.2"/><circle cx="535.3" cy="115.7" r="2.2"/><circle cx="453.5" cy="138.2" r="2.2"/><circle cx="481.8" cy="104.5" r="2.2"/><circle cx="451.2" cy="126.9" r="2.2"/><circle cx="627.8" cy="70.8" r="2.2"/><circle cx="441.1" cy="126.9" r="2.2"/><circle cx="627.7" cy="93.2" r="2.2"/><circle cx="426.5" cy="126.9" r="2.2"/><circle cx="604.0" cy="138.2" r="2.2"/><circle cx="566.2" cy="160.6" r="2.2"/><circle cx="461.4" cy="126.9" r="2.2"/><circle cx="601" cy="93.2" r="2.2"/><circle cx="461.9" cy="104.5" r="2.2"/><circle cx="423.3" cy="239.3" r="2.2"/><circle cx="428.5" cy="104.5" r="2.2"/><circle cx="623.2" cy="149.4" r="2.2"/><circle cx="509.7" cy="115.7" r="2.2"/><circle cx="469.7" cy="115.7" r="2.2"/><circle cx="568.0" cy="115.7" r="2.2"/><circle cx="446.5" cy="93.2" r="2.2"/><circle cx="459.7" cy="284.2" r="2.2"/><circle cx="490.4" cy="205.6" r="2.2"/><circle cx="573.0" cy="104.5" r="2.2"/><circle cx="450.5" cy="48.3" r="2.2"/><circle cx="582.1" cy="149.4" r="2.2"/><circle cx="511.1" cy="126.9" r="2.2"/><circle cx="632.3" cy="93.2" r="2.2"/><circle cx="542.1" cy="149.4" r="2.2"/><circle cx="637.7" cy="93.2" r="2.2"/><circle cx="430.4" cy="138.2" r="2.2"/><circle cx="609.8" cy="104.5" r="2.2"/><circle cx="588.7" cy="115.7" r="2.2"/><circle cx="623.0" cy="93.2" r="2.2"/><circle cx="546.5" cy="149.4" r="2.2"/><circle cx="545.6" cy="104.5" r="2.2"/><circle cx="555.7" cy="115.7" r="2.2"/><circle cx="620.9" cy="93.2" r="2.2"/><circle cx="518.8" cy="160.6" r="2.2"/><circle cx="433.8" cy="149.4" r="2.2"/><circle cx="479.6" cy="115.7" r="2.2"/><circle cx="577.7" cy="104.5" r="2.2"/><circle cx="529.5" cy="115.7" r="2.2"/><circle cx="522.4" cy="104.5" r="2.2"/><circle cx="426" cy="104.5" r="2.2"/><circle cx="555.1" cy="104.5" r="2.2"/><circle cx="529.9" cy="138.2" r="2.2"/><circle cx="469.4" cy="82.0" r="2.2"/><circle cx="454.1" cy="126.9" r="2.2"/><circle cx="522.8" cy="115.7" r="2.2"/><circle cx="614.4" cy="104.5" r="2.2"/><circle cx="568.0" cy="126.9" r="2.2"/><circle cx="619.5" cy="104.5" r="2.2"/><circle cx="465.2" cy="115.7" r="2.2"/><circle cx="637.1" cy="149.4" r="2.2"/><circle cx="491.4" cy="149.4" r="2.2"/><circle cx="553.1" cy="115.7" r="2.2"/><circle cx="490.4" cy="70.8" r="2.2"/><circle cx="424.1" cy="160.6" r="2.2"/><circle cx="510.2" cy="138.2" r="2.2"/><circle cx="622.9" cy="126.9" r="2.2"/><circle cx="628.5" cy="171.9" r="2.2"/><circle cx="632.4" cy="115.7" r="2.2"/><circle cx="462.0" cy="93.2" r="2.2"/><circle cx="526.9" cy="138.2" r="2.2"/><circle cx="477.1" cy="82.0" r="2.2"/><circle cx="513.9" cy="138.2" r="2.2"/><circle cx="481.5" cy="126.9" r="2.2"/><circle cx="548.4" cy="126.9" r="2.2"/><circle cx="492.2" cy="115.7" r="2.2"/><circle cx="620.6" cy="70.8" r="2.2"/><circle cx="471.8" cy="138.2" r="2.2"/><circle cx="565.9" cy="93.2" r="2.2"/><circle cx="617.7" cy="115.7" r="2.2"/><circle cx="563.0" cy="126.9" r="2.2"/><circle cx="538.2" cy="126.9" r="2.2"/><circle cx="634.8" cy="93.2" r="2.2"/><circle cx="615.1" cy="126.9" r="2.2"/><circle cx="549.7" cy="82.0" r="2.2"/><circle cx="477.1" cy="115.7" r="2.2"/><circle cx="442.4" cy="82.0" r="2.2"/><circle cx="580.2" cy="104.5" r="2.2"/><circle cx="446.0" cy="138.2" r="2.2"/><circle cx="458.4" cy="138.2" r="2.2"/><circle cx="463.7" cy="93.2" r="2.2"/><circle cx="558.1" cy="104.5" r="2.2"/><circle cx="466.8" cy="149.4" r="2.2"/><circle cx="419.2" cy="126.9" r="2.2"/><circle cx="472.2" cy="115.7" r="2.2"/><circle cx="672.7" cy="82.0" r="2.2"/><circle cx="488.1" cy="82.0" r="2.2"/><circle cx="503.4" cy="126.9" r="2.2"/><circle cx="456.0" cy="126.9" r="2.2"/><circle cx="504.7" cy="160.6" r="2.2"/><circle cx="591.1" cy="126.9" r="2.2"/><circle cx="634.8" cy="104.5" r="2.2"/><circle cx="488.9" cy="93.2" r="2.2"/><circle cx="547.4" cy="93.2" r="2.2"/><circle cx="436.8" cy="126.9" r="2.2"/><circle cx="454.4" cy="115.7" r="2.2"/><circle cx="553.6" cy="82.0" r="2.2"/><circle cx="598.1" cy="126.9" r="2.2"/><circle cx="461.2" cy="138.2" r="2.2"/><circle cx="542.6" cy="160.6" r="2.2"/><circle cx="496.4" cy="138.2" r="2.2"/><circle cx="474.1" cy="70.8" r="2.2"/><circle cx="469.1" cy="93.2" r="2.2"/><circle cx="605.6" cy="126.9" r="2.2"/><circle cx="603.4" cy="149.4" r="2.2"/><circle cx="583.9" cy="194.3" r="2.2"/><circle cx="529.0" cy="126.9" r="2.2"/><circle cx="534.5" cy="138.2" r="2.2"/><circle cx="607.8" cy="126.9" r="2.2"/><circle cx="428.9" cy="93.2" r="2.2"/><circle cx="527.8" cy="115.7" r="2.2"/><circle cx="516.5" cy="93.2" r="2.2"/><circle cx="542.7" cy="115.7" r="2.2"/><circle cx="625.3" cy="149.4" r="2.2"/><circle cx="407.8" cy="138.2" r="2.2"/><circle cx="499.4" cy="115.7" r="2.2"/><circle cx="632.4" cy="160.6" r="2.2"/><circle cx="593.1" cy="93.2" r="2.2"/><circle cx="447.0" cy="115.7" r="2.2"/><circle cx="488.7" cy="70.8" r="2.2"/><circle cx="586.1" cy="126.9" r="2.2"/><circle cx="517.3" cy="115.7" r="2.2"/><circle cx="431.1" cy="115.7" r="2.2"/><circle cx="488.8" cy="149.4" r="2.2"/><circle cx="425.6" cy="138.2" r="2.2"/><circle cx="438.5" cy="82.0" r="2.2"/><circle cx="606.7" cy="149.4" r="2.2"/><circle cx="571.4" cy="104.5" r="2.2"/><circle cx="535.3" cy="104.5" r="2.2"/><circle cx="435.6" cy="138.2" r="2.2"/><circle cx="512.2" cy="104.5" r="2.2"/><circle cx="489.4" cy="115.7" r="2.2"/><circle cx="524.2" cy="93.2" r="2.2"/><circle cx="580.7" cy="82.0" r="2.2"/><circle cx="473.6" cy="126.9" r="2.2"/><circle cx="513.7" cy="93.2" r="2.2"/><circle cx="493.7" cy="126.9" r="2.2"/><circle cx="627.4" cy="138.2" r="2.2"/><circle cx="602.5" cy="138.2" r="2.2"/><circle cx="596.2" cy="160.6" r="2.2"/><circle cx="479.1" cy="82.0" r="2.2"/><circle cx="629.2" cy="115.7" r="2.2"/><circle cx="491.4" cy="126.9" r="2.2"/><circle cx="424.3" cy="126.9" r="2.2"/><circle cx="567.0" cy="70.8" r="2.2"/><circle cx="443.8" cy="138.2" r="2.2"/><circle cx="515.7" cy="82.0" r="2.2"/><circle cx="575.7" cy="104.5" r="2.2"/><circle cx="476.1" cy="138.2" r="2.2"/><circle cx="568.4" cy="93.2" r="2.2"/><circle cx="524.6" cy="138.2" r="2.2"/><circle cx="504.5" cy="115.7" r="2.2"/><circle cx="520.8" cy="149.4" r="2.2"/><circle cx="449.2" cy="70.8" r="2.2"/><circle cx="456.6" cy="138.2" r="2.2"/><circle cx="627.7" cy="126.9" r="2.2"/><circle cx="555.8" cy="126.9" r="2.2"/><circle cx="468.8" cy="138.2" r="2.2"/><circle cx="474.4" cy="149.4" r="2.2"/><circle cx="613.0" cy="93.2" r="2.2"/><circle cx="622.9" cy="70.8" r="2.2"/><circle cx="483.5" cy="93.2" r="2.2"/><circle cx="624.8" cy="104.5" r="2.2"/><circle cx="452.1" cy="115.7" r="2.2"/><circle cx="599.1" cy="70.8" r="2.2"/><circle cx="630.1" cy="93.2" r="2.2"/><circle cx="651.8" cy="104.5" r="2.2"/><circle cx="595.6" cy="149.4" r="2.2"/><circle cx="491.5" cy="171.9" r="2.2"/><circle cx="611.0" cy="126.9" r="2.2"/><circle cx="639.5" cy="82.0" r="2.2"/><circle cx="515.7" cy="59.5" r="2.2"/><circle cx="538.5" cy="149.4" r="2.2"/><circle cx="468.9" cy="149.4" r="2.2"/><circle cx="561.3" cy="126.9" r="2.2"/><circle cx="556.8" cy="149.4" r="2.2"/><circle cx="559.9" cy="93.2" r="2.2"/><circle cx="467.2" cy="171.9" r="2.2"/><circle cx="477.2" cy="149.4" r="2.2"/><circle cx="512.8" cy="82.0" r="2.2"/><circle cx="584.9" cy="93.2" r="2.2"/><circle cx="535.7" cy="126.9" r="2.2"/><circle cx="558.5" cy="126.9" r="2.2"/><circle cx="580.8" cy="93.2" r="2.2"/><circle cx="428.5" cy="82.0" r="2.2"/><circle cx="449" cy="93.2" r="2.2"/><circle cx="618.5" cy="149.4" r="2.2"/><circle cx="500.3" cy="149.4" r="2.2"/><circle cx="611.6" cy="70.8" r="2.2"/><circle cx="459.5" cy="115.7" r="2.2"/><circle cx="560.4" cy="115.7" r="2.2"/><circle cx="614.5" cy="138.2" r="2.2"/><circle cx="620.0" cy="115.7" r="2.2"/><circle cx="497" cy="59.5" r="2.2"/><circle cx="626.9" cy="82.0" r="2.2"/><circle cx="580.1" cy="70.8" r="2.2"/><circle cx="604.9" cy="115.7" r="2.2"/><circle cx="630.0" cy="126.9" r="2.2"/><circle cx="619.1" cy="82.0" r="2.2"/><circle cx="578.5" cy="160.6" r="2.2"/><circle cx="430.4" cy="104.5" r="2.2"/><circle cx="464.4" cy="126.9" r="2.2"/><circle cx="438.7" cy="126.9" r="2.2"/><circle cx="439.9" cy="149.4" r="2.2"/><circle cx="478.8" cy="104.5" r="2.2"/><circle cx="487.7" cy="115.7" r="2.2"/><circle cx="589.8" cy="160.6" r="2.2"/><circle cx="527" cy="183.1" r="2.2"/><circle cx="578.2" cy="93.2" r="2.2"/><circle cx="530.8" cy="126.9" r="2.2"/><circle cx="532.5" cy="104.5" r="2.2"/><circle cx="511.4" cy="93.2" r="2.2"/><circle cx="576.3" cy="149.4" r="2.2"/><circle cx="471.2" cy="104.5" r="2.2"/><circle cx="572.4" cy="93.2" r="2.2"/><circle cx="618.5" cy="160.6" r="2.2"/><circle cx="547.6" cy="115.7" r="2.2"/><circle cx="421.3" cy="171.9" r="2.2"/><circle cx="491.7" cy="104.5" r="2.2"/><circle cx="542.4" cy="138.2" r="2.2"/><circle cx="484.2" cy="104.5" r="2.2"/><circle cx="457.0" cy="115.7" r="2.2"/><circle cx="504" cy="104.5" r="2.2"/><circle cx="515.8" cy="126.9" r="2.2"/><circle cx="530.2" cy="104.5" r="2.2"/><circle cx="503.5" cy="149.4" r="2.2"/><circle cx="547.4" cy="104.5" r="2.2"/><circle cx="632.6" cy="138.2" r="2.2"/><circle cx="459.1" cy="93.2" r="2.2"/><circle cx="580.7" cy="138.2" r="2.2"/><circle cx="428.7" cy="138.2" r="2.2"/><circle cx="624.6" cy="138.2" r="2.2"/><circle cx="479.3" cy="126.9" r="2.2"/><circle cx="554.4" cy="138.2" r="2.2"/><circle cx="421.3" cy="194.3" r="2.2"/><circle cx="441.3" cy="138.2" r="2.2"/><circle cx="583.6" cy="126.9" r="2.2"/><circle cx="423" cy="183.1" r="2.2"/><circle cx="519.8" cy="115.7" r="2.2"/><circle cx="474.2" cy="93.2" r="2.2"/><circle cx="447.3" cy="104.5" r="2.2"/><circle cx="550.0" cy="93.2" r="2.2"/><circle cx="558.3" cy="115.7" r="2.2"/><circle cx="490.4" cy="138.2" r="2.2"/><circle cx="428.8" cy="126.9" r="2.2"/><circle cx="525.3" cy="115.7" r="2.2"/><circle cx="614.3" cy="82.0" r="2.2"/><circle cx="617.8" cy="93.2" r="2.2"/><circle cx="530.4" cy="82.0" r="2.2"/><circle cx="588.4" cy="126.9" r="2.2"/><circle cx="496.3" cy="104.5" r="2.2"/><circle cx="493" cy="82.0" r="2.2"/><circle cx="636.3" cy="82.0" r="2.2"/><circle cx="532.0" cy="115.7" r="2.2"/><circle cx="522.3" cy="93.2" r="2.2"/><circle cx="601.2" cy="104.5" r="2.2"/><circle cx="485.8" cy="126.9" r="2.2"/><circle cx="496.0" cy="126.9" r="2.2"/><circle cx="627.3" cy="115.7" r="2.2"/><circle cx="578.6" cy="70.8" r="2.2"/><circle cx="625.4" cy="126.9" r="2.2"/><circle cx="481" cy="82.0" r="2.2"/><circle cx="502.0" cy="115.7" r="2.2"/><circle cx="474.0" cy="104.5" r="2.2"/><circle cx="519.2" cy="93.2" r="2.2"/><circle cx="568.5" cy="138.2" r="2.2"/><circle cx="481.8" cy="115.7" r="2.2"/><circle cx="599" cy="93.2" r="2.2"/><circle cx="446.6" cy="126.9" r="2.2"/><circle cx="518.9" cy="82.0" r="2.2"/><circle cx="553.1" cy="126.9" r="2.2"/><circle cx="637.9" cy="138.2" r="2.2"/><circle cx="423.5" cy="149.4" r="2.2"/><circle cx="444.4" cy="115.7" r="2.2"/><circle cx="592.6" cy="115.7" r="2.2"/><circle cx="590.9" cy="104.5" r="2.2"/><circle cx="437.3" cy="160.6" r="2.2"/><circle cx="607.2" cy="104.5" r="2.2"/><circle cx="459.1" cy="104.5" r="2.2"/><circle cx="565.7" cy="126.9" r="2.2"/><circle cx="496.4" cy="93.2" r="2.2"/><circle cx="621.8" cy="138.2" r="2.2"/><circle cx="464.2" cy="138.2" r="2.2"/><circle cx="535.2" cy="149.4" r="2.2"/><circle cx="560.4" cy="104.5" r="2.2"/><circle cx="544.5" cy="138.2" r="2.2"/></g>
<line x1="393.5" y1="128.1" x2="683.3" y2="118.3" stroke="#0000ff" stroke-width="2.8"/>
</g>
<rect x="33.2" y="38.6" width="289.3" height="254.9" fill="none" stroke="#2e2e2e" stroke-width="1"/><line x1="27.6" y1="47.9" x2="33.2" y2="47.9" stroke="#2e2e2e" stroke-width="1"/><text class="tk" transform="translate(24.550000000000004,47.9) rotate(-90) scale(0.89,1)" text-anchor="middle">4.44e+02</text><line x1="27.6" y1="95.18" x2="33.2" y2="95.18" stroke="#2e2e2e" stroke-width="1"/><text class="tk" transform="translate(24.550000000000004,95.18) rotate(-90) scale(0.89,1)" text-anchor="middle">4.36e+02</text><line x1="27.6" y1="142.46" x2="33.2" y2="142.46" stroke="#2e2e2e" stroke-width="1"/><text class="tk" transform="translate(24.550000000000004,142.46) rotate(-90) scale(0.89,1)" text-anchor="middle">4.28e+02</text><line x1="27.6" y1="189.74" x2="33.2" y2="189.74" stroke="#2e2e2e" stroke-width="1"/><text class="tk" transform="translate(24.550000000000004,189.74) rotate(-90) scale(0.89,1)" text-anchor="middle">4.21e+02</text><line x1="27.6" y1="237.02" x2="33.2" y2="237.02" stroke="#2e2e2e" stroke-width="1"/><text class="tk" transform="translate(24.550000000000004,237.02) rotate(-90) scale(0.89,1)" text-anchor="middle">4.13e+02</text><line x1="27.6" y1="284.3" x2="33.2" y2="284.3" stroke="#2e2e2e" stroke-width="1"/><text class="tk" transform="translate(24.550000000000004,284.3) rotate(-90) scale(0.89,1)" text-anchor="middle">4.05e+02</text><line x1="43.85" y1="293.5" x2="43.85" y2="299.5" stroke="#2e2e2e" stroke-width="1"/><line x1="82.16" y1="293.5" x2="82.16" y2="299.5" stroke="#2e2e2e" stroke-width="1"/><line x1="120.47" y1="293.5" x2="120.47" y2="299.5" stroke="#2e2e2e" stroke-width="1"/><line x1="158.78" y1="293.5" x2="158.78" y2="299.5" stroke="#2e2e2e" stroke-width="1"/><line x1="197.09" y1="293.5" x2="197.09" y2="299.5" stroke="#2e2e2e" stroke-width="1"/><line x1="235.4" y1="293.5" x2="235.4" y2="299.5" stroke="#2e2e2e" stroke-width="1"/><line x1="273.71000000000004" y1="293.5" x2="273.71000000000004" y2="299.5" stroke="#2e2e2e" stroke-width="1"/><line x1="312.02000000000004" y1="293.5" x2="312.02000000000004" y2="299.5" stroke="#2e2e2e" stroke-width="1"/><text class="tk" transform="translate(43.85,310.2) scale(0.885,1)" text-anchor="middle">Dec19</text><text class="tk" transform="translate(312.02000000000004,310.2) scale(0.885,1)" text-anchor="middle">Dec23</text><text class="lab" transform="translate(177.95,326) scale(0.965,1)" text-anchor="middle">Time</text><text class="lab" transform="translate(8.800000000000004,166.1) rotate(-90) scale(0.93,1)" text-anchor="middle">CpG</text><text class="ttl" x="178.45" y="20" text-anchor="middle">CpG Trend</text><text class="sub" transform="translate(33.0,36.9) scale(0.877,1)">slope = -27.76 p.random = 0.01</text><text class="let" transform="translate(30.6,14.5) scale(0.93,1)">a</text>
<rect x="393.5" y="38.6" width="289.79999999999995" height="254.9" fill="none" stroke="#2e2e2e" stroke-width="1"/><line x1="387.9" y1="47.9" x2="393.5" y2="47.9" stroke="#2e2e2e" stroke-width="1"/><text class="tk" transform="translate(384.85,47.9) rotate(-90) scale(0.89,1)" text-anchor="middle">8.25e+02</text><line x1="387.9" y1="95.18" x2="393.5" y2="95.18" stroke="#2e2e2e" stroke-width="1"/><text class="tk" transform="translate(384.85,95.18) rotate(-90) scale(0.89,1)" text-anchor="middle">8.21e+02</text><line x1="387.9" y1="142.46" x2="393.5" y2="142.46" stroke="#2e2e2e" stroke-width="1"/><text class="tk" transform="translate(384.85,142.46) rotate(-90) scale(0.89,1)" text-anchor="middle">8.17e+02</text><line x1="387.9" y1="189.74" x2="393.5" y2="189.74" stroke="#2e2e2e" stroke-width="1"/><text class="tk" transform="translate(384.85,189.74) rotate(-90) scale(0.89,1)" text-anchor="middle">8.12e+02</text><line x1="387.9" y1="237.02" x2="393.5" y2="237.02" stroke="#2e2e2e" stroke-width="1"/><text class="tk" transform="translate(384.85,237.02) rotate(-90) scale(0.89,1)" text-anchor="middle">8.08e+02</text><line x1="387.9" y1="284.3" x2="393.5" y2="284.3" stroke="#2e2e2e" stroke-width="1"/><text class="tk" transform="translate(384.85,284.3) rotate(-90) scale(0.89,1)" text-anchor="middle">8.04e+02</text><line x1="404.5" y1="293.5" x2="404.5" y2="299.5" stroke="#2e2e2e" stroke-width="1"/><line x1="442.81" y1="293.5" x2="442.81" y2="299.5" stroke="#2e2e2e" stroke-width="1"/><line x1="481.12" y1="293.5" x2="481.12" y2="299.5" stroke="#2e2e2e" stroke-width="1"/><line x1="519.4300000000001" y1="293.5" x2="519.4300000000001" y2="299.5" stroke="#2e2e2e" stroke-width="1"/><line x1="557.74" y1="293.5" x2="557.74" y2="299.5" stroke="#2e2e2e" stroke-width="1"/><line x1="596.05" y1="293.5" x2="596.05" y2="299.5" stroke="#2e2e2e" stroke-width="1"/><line x1="634.36" y1="293.5" x2="634.36" y2="299.5" stroke="#2e2e2e" stroke-width="1"/><line x1="672.6700000000001" y1="293.5" x2="672.6700000000001" y2="299.5" stroke="#2e2e2e" stroke-width="1"/><text class="tk" transform="translate(404.5,310.2) scale(0.885,1)" text-anchor="middle">Dec19</text><text class="tk" transform="translate(672.6700000000001,310.2) scale(0.885,1)" text-anchor="middle">Dec23</text><text class="lab" transform="translate(538.5,326) scale(0.965,1)" text-anchor="middle">Time</text><text class="lab" transform="translate(369.1,166.1) rotate(-90) scale(0.93,1)" text-anchor="middle">UUG</text><text class="ttl" x="538.5" y="20" text-anchor="middle">UUG Trend</text><text class="sub" transform="translate(393.3,36.9) scale(0.877,1)">slope = 23.641 p.random = 0.01</text><text class="let" transform="translate(394.7,14.0) scale(1.02,1)">b</text>
</svg>
</body></html>
